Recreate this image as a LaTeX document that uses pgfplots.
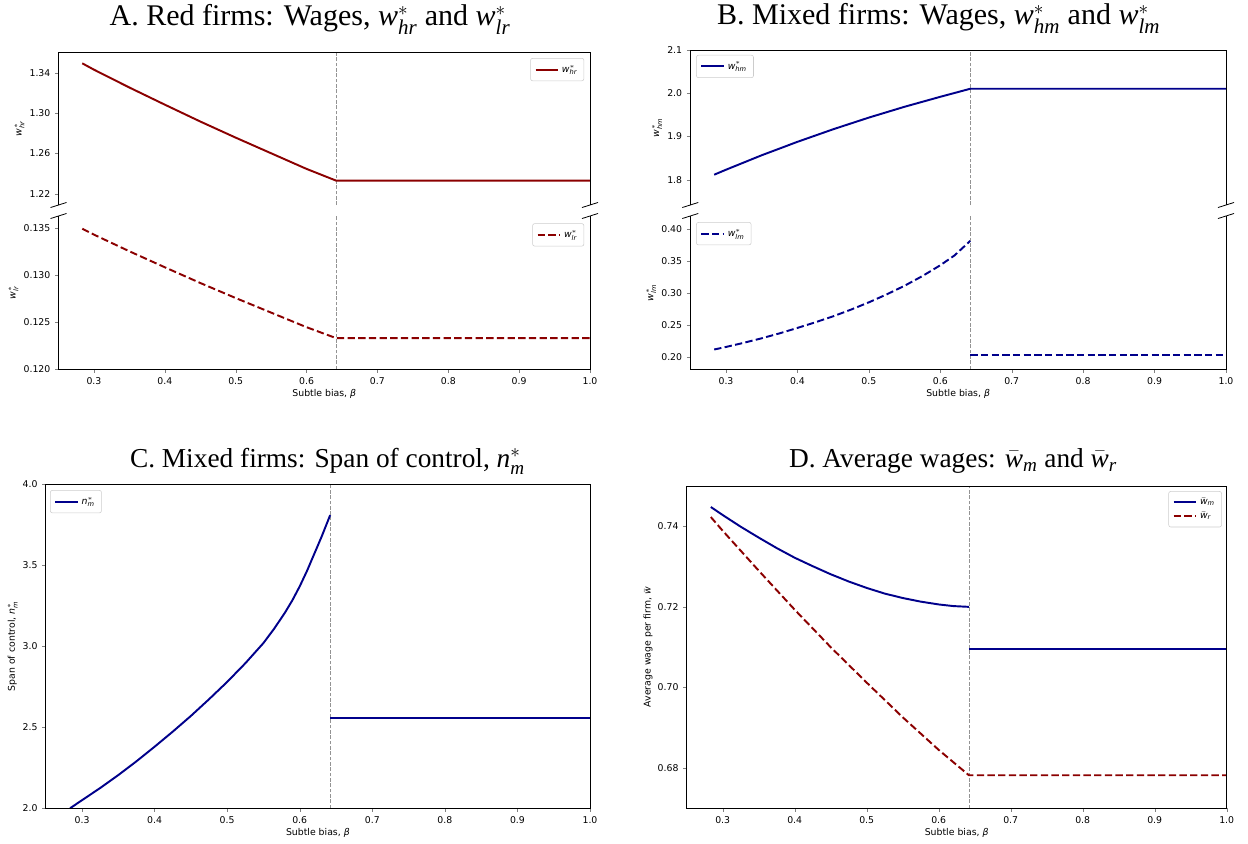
\documentclass[border=0pt]{standalone}
\usepackage{amsmath}
\usepackage{fontspec}
\setmainfont{DejaVu Sans}
\newfontfamily\titlefont{Liberation Serif}
\usepackage{pgfplots}
\pgfplotsset{compat=1.18}
\definecolor{redline}{RGB}{139,0,0}
\definecolor{blueline}{RGB}{0,0,139}
% italic symbol with star and subscript in the current text font
\newcommand{\sw}[2]{\textit{#1}$^{*}_{\textit{#2}}$}
\newcommand{\bw}[1]{$\bar{\textit{w}}_{\textit{#1}}$}

\pgfplotsset{
  panel/.style={scale only axis, xmin=0.25, xmax=1.0, scaled ticks=false,
    tick align=outside, tick pos=left, major tick length=2.6pt,
    axis line style={draw=none}, clip=false,
    ticklabel style={font=\fontsize{7}{8}\selectfont},
    label style={font=\fontsize{7}{8}\selectfont},
    xlabel shift=-3pt, ylabel shift=-3pt,
    /pgf/number format/assume math mode=true,
    legend style={draw=black!20, rounded corners=1.5pt, font=\fontsize{7}{8}\selectfont,
      inner xsep=3pt, inner ysep=3pt},
    legend cell align=left},
  xnums/.style={xtick={0.3,0.4,0.5,0.6,0.7,0.8,0.9,1.0},
    xticklabel style={/pgf/number format/.cd,fixed,fixed zerofill,precision=1},
    xlabel={Subtle bias, \textit{β}}},
  yprec/.style={yticklabel style={/pgf/number format/.cd,fixed,fixed zerofill,precision=#1}},
  fullbox/.style={extra description/.code={
    \draw[line width=0.6pt] (axis description cs:0,0) rectangle (axis description cs:1,1);}},
  upperbox/.style={xtick=\empty, extra description/.code={
    \draw[line width=0.6pt] (axis description cs:0,0) -- (axis description cs:0,1)
      -- (axis description cs:1,1) -- (axis description cs:1,0);
    \draw[line width=0.6pt] ([shift={(-6pt,-1.9pt)}]axis description cs:0,0) -- ([shift={(6pt,1.9pt)}]axis description cs:0,0);
    \draw[line width=0.6pt] ([shift={(-6pt,-1.9pt)}]axis description cs:1,0) -- ([shift={(6pt,1.9pt)}]axis description cs:1,0);}},
  lowerbox/.style={extra description/.code={
    \draw[line width=0.6pt] (axis description cs:0,1) -- (axis description cs:0,0)
      -- (axis description cs:1,0) -- (axis description cs:1,1);
    \draw[line width=0.6pt] ([shift={(-6pt,-1.9pt)}]axis description cs:0,1) -- ([shift={(6pt,1.9pt)}]axis description cs:0,1);
    \draw[line width=0.6pt] ([shift={(-6pt,-1.9pt)}]axis description cs:1,1) -- ([shift={(6pt,1.9pt)}]axis description cs:1,1);}},
  vline/.style={gray!85, line width=0.6pt, dash pattern=on 2.8pt off 1.2pt, forget plot},
  rsolid/.style={redline, line width=1.45pt},
  bsolid/.style={blueline, line width=1.45pt},
  rdash/.style={redline, line width=1.45pt, dash pattern=on 5.5pt off 2.5pt},
  bdash/.style={blueline, line width=1.45pt, dash pattern=on 5.5pt off 2.5pt},
}

\begin{document}
\begin{tikzpicture}
\useasboundingbox (0,0) rectangle (936pt,-632.25pt);

\begin{scope}[every node/.style={anchor=base, font=\titlefont\fontsize{22.5}{25}\selectfont}]
\node at (232.5pt,-19.2pt) {A. Red firms: Wages, \sw{w}{hr} and \sw{w}{lr}};
\node at (704pt,-18.7pt) {B. Mixed firms: Wages, \sw{w}{hm} and \sw{w}{lm}};
\end{scope}
\begin{scope}[every node/.style={anchor=base, font=\titlefont\fontsize{20.5}{23}\selectfont}]
\node at (245.6pt,-350.5pt) {C. Mixed firms: Span of control, \sw{n}{m}};
\node at (714.8pt,-350.5pt) {D. Average wages: \bw{m} and \bw{r}};
\end{scope}

% A upper
\begin{axis}[panel, upperbox, yprec=2, at={(43.9pt,-153.75pt)}, anchor=south west,
  width=398.6pt, height=114.2pt, ymin=1.209, ymax=1.360,
  ytick={1.22,1.26,1.30,1.34}, ylabel={\sw{w}{hr}},
  legend style={at={(0.989,0.965)}, anchor=north east}]
\addplot[vline] coordinates {(0.642,1.209) (0.642,1.360)};
\addplot[rsolid] coordinates {(0.2835,1.3495) (0.30,1.3432) (0.35,1.3255) (0.40,1.3085) (0.45,1.2918) (0.50,1.2758) (0.55,1.2603) (0.60,1.2448) (0.642,1.2331) (1.0,1.2331)};
\addlegendentry{\sw{w}{hr}}
\end{axis}

% A lower
\begin{axis}[panel, lowerbox, xnums, yprec=3, at={(43.9pt,-277pt)}, anchor=south west,
  width=398.6pt, height=115pt, ymin=0.120, ymax=0.1363,
  ytick={0.120,0.125,0.130,0.135}, ylabel={\sw{w}{lr}},
  legend style={at={(0.989,0.952)}, anchor=north east}]
\addplot[vline] coordinates {(0.642,0.120) (0.642,0.1363)};
\addplot[rdash] coordinates {(0.2835,0.13495) (0.30,0.13432) (0.35,0.13255) (0.40,0.13085) (0.45,0.12918) (0.50,0.12758) (0.55,0.12603) (0.60,0.12448) (0.642,0.12331) (1.0,0.12331)};
\addlegendentry{\sw{w}{lr}}
\end{axis}

% B upper
\begin{axis}[panel, upperbox, yprec=1, at={(517.7pt,-153.75pt)}, anchor=south west,
  width=401.8pt, height=116.25pt, ymin=1.742, ymax=2.1,
  ytick={1.8,1.9,2.0,2.1}, ylabel={\sw{w}{hm}},
  legend style={at={(0.011,0.968)}, anchor=north west}]
\addplot[vline] coordinates {(0.642,1.742) (0.642,2.1)};
\addplot[bsolid] coordinates {(0.2835,1.812) (0.30,1.8235) (0.35,1.8569) (0.40,1.8879) (0.45,1.9169) (0.50,1.9439) (0.55,1.9689) (0.60,1.9919) (0.642,2.0105) (1.0,2.0105)};
\addlegendentry{\sw{w}{hm}}
\end{axis}

% B lower
\begin{axis}[panel, lowerbox, xnums, yprec=2, at={(517.7pt,-277pt)}, anchor=south west,
  width=401.8pt, height=115pt, ymin=0.1804, ymax=0.4207,
  ytick={0.20,0.25,0.30,0.35,0.40}, ylabel={\sw{w}{lm}},
  legend style={at={(0.011,0.96)}, anchor=north west}]
\addplot[vline] coordinates {(0.642,0.1804) (0.642,0.4207)};
\addplot[bdash] coordinates {(0.2835,0.2115) (0.30,0.2155) (0.325,0.2220) (0.35,0.2291) (0.375,0.2368) (0.40,0.2453) (0.425,0.2541) (0.45,0.2635) (0.475,0.2740) (0.50,0.2854) (0.525,0.2979) (0.55,0.3114) (0.575,0.3266) (0.60,0.3435) (0.62,0.3590) (0.642,0.3818)};
\addlegendentry{\sw{w}{lm}}
\addplot[bdash, forget plot] coordinates {(0.642,0.2026) (1.0,0.2026)};
\end{axis}

% C
\begin{axis}[panel, fullbox, xnums, yprec=1, at={(34.3pt,-606.2pt)}, anchor=south west,
  width=408.2pt, height=243pt, ymin=2, ymax=4,
  ytick={2.0,2.5,3.0,3.5,4.0}, ylabel={Span of control, \sw{n}{m}},
  legend style={at={(0.008,0.982)}, anchor=north west}]
\addplot[vline] coordinates {(0.642,2) (0.642,4)};
\addplot[bsolid] coordinates {(0.2835,2.00) (0.30,2.05) (0.325,2.125) (0.35,2.205) (0.375,2.29) (0.40,2.38) (0.425,2.473) (0.45,2.57) (0.475,2.673) (0.50,2.78) (0.525,2.895) (0.55,3.02) (0.565,3.11) (0.58,3.21) (0.59,3.285) (0.60,3.37) (0.61,3.465) (0.62,3.57) (0.63,3.675) (0.642,3.81)};
\addlegendentry{\sw{n}{m}}
\addplot[bsolid, forget plot] coordinates {(0.642,2.555) (1.0,2.555)};
\end{axis}

% D
\begin{axis}[panel, fullbox, xnums, yprec=2, at={(515pt,-606.2pt)}, anchor=south west,
  width=405pt, height=241.7pt, ymin=0.67, ymax=0.75,
  ytick={0.68,0.70,0.72,0.74}, ylabel={Average wage per firm, $\bar{\textit{w}}$},
  legend style={at={(0.991,0.984)}, anchor=north east}]
\addplot[vline] coordinates {(0.642,0.67) (0.642,0.75)};
\addplot[bsolid] coordinates {(0.2835,0.7448) (0.30,0.7428) (0.325,0.7399) (0.35,0.7372) (0.375,0.7346) (0.40,0.7322) (0.425,0.7301) (0.45,0.7281) (0.475,0.7263) (0.50,0.7247) (0.525,0.7233) (0.55,0.7222) (0.575,0.7213) (0.60,0.7206) (0.62,0.7202) (0.642,0.7200)};
\addlegendentry{\bw{m}}
\addplot[rdash] coordinates {(0.2835,0.7423) (0.30,0.7389) (0.35,0.7290) (0.40,0.7193) (0.45,0.7100) (0.50,0.7012) (0.55,0.6926) (0.60,0.6845) (0.642,0.6782) (1.0,0.6782)};
\addlegendentry{\bw{r}}
\addplot[bsolid, forget plot] coordinates {(0.642,0.7095) (1.0,0.7095)};
\end{axis}
\end{tikzpicture}
\end{document}
